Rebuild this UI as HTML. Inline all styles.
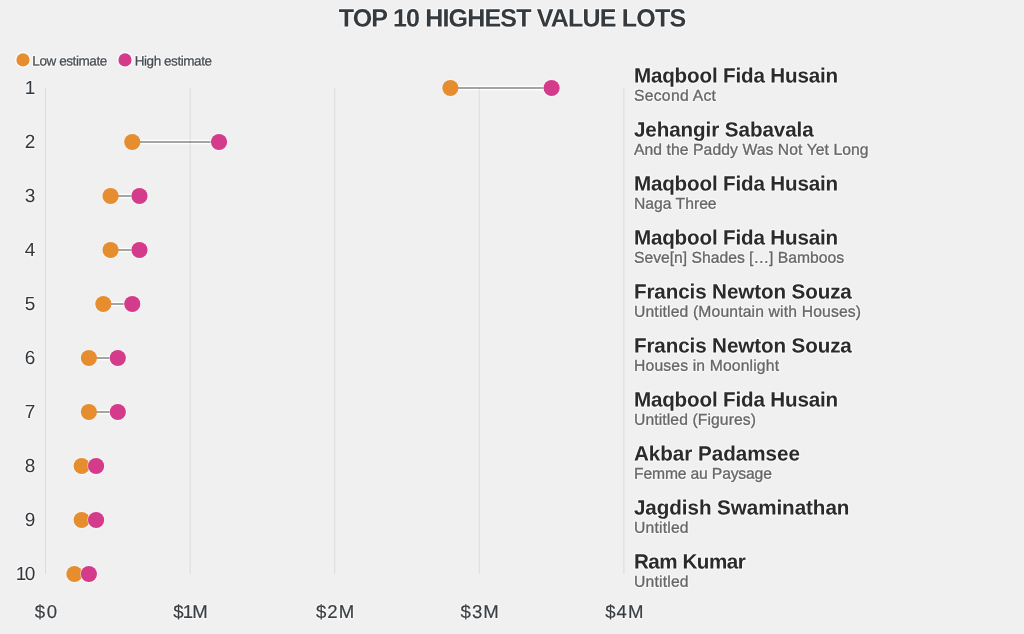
<!DOCTYPE html>
<html><head><meta charset="utf-8"><title>Top 10 highest value lots</title>
<style>
html,body{margin:0;padding:0;background:#f0f0f0;}
body{width:1024px;height:634px;overflow:hidden;font-family:"Liberation Sans",sans-serif;}
svg{display:block;will-change:transform;opacity:0.999;font-family:"Liberation Sans",sans-serif;}
.title{font-weight:bold;font-size:25px;fill:#343a3e;}
.leg{font-size:13.5px;fill:#454b50;stroke:#454b50;stroke-width:.25;}
.num{font-size:19px;fill:#31373c;}
.ax{font-size:18.6px;fill:#383e43;stroke:#383e43;stroke-width:.2;}
.name{font-weight:bold;font-size:20.6px;fill:#2b2b2b;}
.sub{font-size:15.7px;fill:#666666;stroke:#666666;stroke-width:.3;}
.h{fill:#ffffff;stroke:#ffffff;stroke-width:2.4;stroke-linejoin:round;opacity:.55;}
.hl{fill:#ffffff;stroke:#ffffff;stroke-width:2.3;stroke-linejoin:round;opacity:.75;}
.grid{stroke:#000000;stroke-opacity:.085;stroke-width:1;}
</style></head><body>
<svg width="1024" height="634" viewBox="0 0 1024 634">
<rect width="1024" height="634" fill="#f0f0f0"/>
<text class="title h" x="338.7" y="26.4" textLength="347.4" lengthAdjust="spacing" transform="rotate(0.03 338.7 26.4)">TOP 10 HIGHEST VALUE LOTS</text><text class="title" x="338.7" y="26.4" textLength="347.4" lengthAdjust="spacing" transform="rotate(0.03 338.7 26.4)">TOP 10 HIGHEST VALUE LOTS</text>
<circle cx="23" cy="59.9" r="7.9" fill="#fbfdff"/><circle cx="23" cy="59.9" r="6.6" fill="#e68d30"/>
<text class="leg hl" x="32.3" y="65.5" textLength="75.0" lengthAdjust="spacing" transform="rotate(0.03 32.3 65.5)">Low estimate</text><text class="leg" x="32.3" y="65.5" textLength="75.0" lengthAdjust="spacing" transform="rotate(0.03 32.3 65.5)">Low estimate</text>
<circle cx="125" cy="59.9" r="7.9" fill="#fbfdff"/><circle cx="125" cy="59.9" r="6.6" fill="#d43b8a"/>
<text class="leg hl" x="134.7" y="65.5" textLength="77.3" lengthAdjust="spacing" transform="rotate(0.03 134.7 65.5)">High estimate</text><text class="leg" x="134.7" y="65.5" textLength="77.3" lengthAdjust="spacing" transform="rotate(0.03 134.7 65.5)">High estimate</text>
<text class="ax h" x="45.9" y="618.0" text-anchor="middle" textLength="22.2" lengthAdjust="spacing" transform="rotate(0.03 45.9 618.0)">$0</text><text class="ax" x="45.9" y="618.0" text-anchor="middle" textLength="22.2" lengthAdjust="spacing" transform="rotate(0.03 45.9 618.0)">$0</text>
<text class="ax h" x="190.5" y="618.0" text-anchor="middle" textLength="34.6" lengthAdjust="spacing" transform="rotate(0.03 190.5 618.0)">$1M</text><text class="ax" x="190.5" y="618.0" text-anchor="middle" textLength="34.6" lengthAdjust="spacing" transform="rotate(0.03 190.5 618.0)">$1M</text>
<text class="ax h" x="335.1" y="618.0" text-anchor="middle" textLength="38.2" lengthAdjust="spacing" transform="rotate(0.03 335.1 618.0)">$2M</text><text class="ax" x="335.1" y="618.0" text-anchor="middle" textLength="38.2" lengthAdjust="spacing" transform="rotate(0.03 335.1 618.0)">$2M</text>
<text class="ax h" x="479.7" y="618.0" text-anchor="middle" textLength="38.2" lengthAdjust="spacing" transform="rotate(0.03 479.7 618.0)">$3M</text><text class="ax" x="479.7" y="618.0" text-anchor="middle" textLength="38.2" lengthAdjust="spacing" transform="rotate(0.03 479.7 618.0)">$3M</text>
<text class="ax h" x="624.3" y="618.0" text-anchor="middle" textLength="38.2" lengthAdjust="spacing" transform="rotate(0.03 624.3 618.0)">$4M</text><text class="ax" x="624.3" y="618.0" text-anchor="middle" textLength="38.2" lengthAdjust="spacing" transform="rotate(0.03 624.3 618.0)">$4M</text>
<text class="num h" x="35.4" y="94.1" text-anchor="end" transform="rotate(0.03 35.4 94.1)">1</text><text class="num" x="35.4" y="94.1" text-anchor="end" transform="rotate(0.03 35.4 94.1)">1</text>
<circle cx="450.38" cy="88" r="8.8" fill="#f6f9fc"/><circle cx="551.6" cy="88" r="8.8" fill="#f6f9fc"/><line x1="450.38" x2="551.6" y1="88" y2="88" stroke="#ffffff" stroke-width="4.4"/><line x1="450.38" x2="551.6" y1="88" y2="88" stroke="#a4a4a4" stroke-width="2"/>
<text class="name h" x="633.9" y="82.4" textLength="204.3" lengthAdjust="spacing" transform="rotate(0.03 633.9 82.4)">Maqbool Fida Husain</text><text class="name" x="633.9" y="82.4" textLength="204.3" lengthAdjust="spacing" transform="rotate(0.03 633.9 82.4)">Maqbool Fida Husain</text>
<text class="sub h" x="634.0" y="100.7" textLength="81.9" lengthAdjust="spacing" transform="rotate(0.03 634.0 100.7)">Second Act</text><text class="sub" x="634.0" y="100.7" textLength="81.9" lengthAdjust="spacing" transform="rotate(0.03 634.0 100.7)">Second Act</text>
<text class="num h" x="35.4" y="148.1" text-anchor="end" transform="rotate(0.03 35.4 148.1)">2</text><text class="num" x="35.4" y="148.1" text-anchor="end" transform="rotate(0.03 35.4 148.1)">2</text>
<circle cx="132.26" cy="142" r="8.8" fill="#f6f9fc"/><circle cx="219.02" cy="142" r="8.8" fill="#f6f9fc"/><line x1="132.26" x2="219.02" y1="142" y2="142" stroke="#ffffff" stroke-width="4.4"/><line x1="132.26" x2="219.02" y1="142" y2="142" stroke="#a4a4a4" stroke-width="2"/>
<text class="name h" x="633.9" y="136.4" textLength="179.8" lengthAdjust="spacing" transform="rotate(0.03 633.9 136.4)">Jehangir Sabavala</text><text class="name" x="633.9" y="136.4" textLength="179.8" lengthAdjust="spacing" transform="rotate(0.03 633.9 136.4)">Jehangir Sabavala</text>
<text class="sub h" x="634.0" y="154.7" textLength="234.6" lengthAdjust="spacing" transform="rotate(0.03 634.0 154.7)">And the Paddy Was Not Yet Long</text><text class="sub" x="634.0" y="154.7" textLength="234.6" lengthAdjust="spacing" transform="rotate(0.03 634.0 154.7)">And the Paddy Was Not Yet Long</text>
<text class="num h" x="35.4" y="202.1" text-anchor="end" transform="rotate(0.03 35.4 202.1)">3</text><text class="num" x="35.4" y="202.1" text-anchor="end" transform="rotate(0.03 35.4 202.1)">3</text>
<circle cx="110.57" cy="196" r="8.8" fill="#f6f9fc"/><circle cx="139.49" cy="196" r="8.8" fill="#f6f9fc"/><line x1="110.57" x2="139.49" y1="196" y2="196" stroke="#ffffff" stroke-width="4.4"/><line x1="110.57" x2="139.49" y1="196" y2="196" stroke="#a4a4a4" stroke-width="2"/>
<text class="name h" x="633.9" y="190.4" textLength="204.3" lengthAdjust="spacing" transform="rotate(0.03 633.9 190.4)">Maqbool Fida Husain</text><text class="name" x="633.9" y="190.4" textLength="204.3" lengthAdjust="spacing" transform="rotate(0.03 633.9 190.4)">Maqbool Fida Husain</text>
<text class="sub h" x="634.0" y="208.7" textLength="82.6" lengthAdjust="spacing" transform="rotate(0.03 634.0 208.7)">Naga Three</text><text class="sub" x="634.0" y="208.7" textLength="82.6" lengthAdjust="spacing" transform="rotate(0.03 634.0 208.7)">Naga Three</text>
<text class="num h" x="35.4" y="256.1" text-anchor="end" transform="rotate(0.03 35.4 256.1)">4</text><text class="num" x="35.4" y="256.1" text-anchor="end" transform="rotate(0.03 35.4 256.1)">4</text>
<circle cx="110.57" cy="250" r="8.8" fill="#f6f9fc"/><circle cx="139.49" cy="250" r="8.8" fill="#f6f9fc"/><line x1="110.57" x2="139.49" y1="250" y2="250" stroke="#ffffff" stroke-width="4.4"/><line x1="110.57" x2="139.49" y1="250" y2="250" stroke="#a4a4a4" stroke-width="2"/>
<text class="name h" x="633.9" y="244.4" textLength="204.3" lengthAdjust="spacing" transform="rotate(0.03 633.9 244.4)">Maqbool Fida Husain</text><text class="name" x="633.9" y="244.4" textLength="204.3" lengthAdjust="spacing" transform="rotate(0.03 633.9 244.4)">Maqbool Fida Husain</text>
<text class="sub h" x="634.0" y="262.7" textLength="210.1" lengthAdjust="spacing" transform="rotate(0.03 634.0 262.7)">Seve[n] Shades […] Bamboos</text><text class="sub" x="634.0" y="262.7" textLength="210.1" lengthAdjust="spacing" transform="rotate(0.03 634.0 262.7)">Seve[n] Shades […] Bamboos</text>
<text class="num h" x="35.4" y="310.1" text-anchor="end" transform="rotate(0.03 35.4 310.1)">5</text><text class="num" x="35.4" y="310.1" text-anchor="end" transform="rotate(0.03 35.4 310.1)">5</text>
<circle cx="103.34" cy="304" r="8.8" fill="#f6f9fc"/><circle cx="132.26" cy="304" r="8.8" fill="#f6f9fc"/><line x1="103.34" x2="132.26" y1="304" y2="304" stroke="#ffffff" stroke-width="4.4"/><line x1="103.34" x2="132.26" y1="304" y2="304" stroke="#a4a4a4" stroke-width="2"/>
<text class="name h" x="633.9" y="298.4" textLength="217.9" lengthAdjust="spacing" transform="rotate(0.03 633.9 298.4)">Francis Newton Souza</text><text class="name" x="633.9" y="298.4" textLength="217.9" lengthAdjust="spacing" transform="rotate(0.03 633.9 298.4)">Francis Newton Souza</text>
<text class="sub h" x="634.0" y="316.7" textLength="227.0" lengthAdjust="spacing" transform="rotate(0.03 634.0 316.7)">Untitled (Mountain with Houses)</text><text class="sub" x="634.0" y="316.7" textLength="227.0" lengthAdjust="spacing" transform="rotate(0.03 634.0 316.7)">Untitled (Mountain with Houses)</text>
<text class="num h" x="35.4" y="364.1" text-anchor="end" transform="rotate(0.03 35.4 364.1)">6</text><text class="num" x="35.4" y="364.1" text-anchor="end" transform="rotate(0.03 35.4 364.1)">6</text>
<circle cx="88.88" cy="358" r="8.8" fill="#f6f9fc"/><circle cx="117.8" cy="358" r="8.8" fill="#f6f9fc"/><line x1="88.88" x2="117.8" y1="358" y2="358" stroke="#ffffff" stroke-width="4.4"/><line x1="88.88" x2="117.8" y1="358" y2="358" stroke="#a4a4a4" stroke-width="2"/>
<text class="name h" x="633.9" y="352.4" textLength="217.9" lengthAdjust="spacing" transform="rotate(0.03 633.9 352.4)">Francis Newton Souza</text><text class="name" x="633.9" y="352.4" textLength="217.9" lengthAdjust="spacing" transform="rotate(0.03 633.9 352.4)">Francis Newton Souza</text>
<text class="sub h" x="634.0" y="370.7" textLength="145.0" lengthAdjust="spacing" transform="rotate(0.03 634.0 370.7)">Houses in Moonlight</text><text class="sub" x="634.0" y="370.7" textLength="145.0" lengthAdjust="spacing" transform="rotate(0.03 634.0 370.7)">Houses in Moonlight</text>
<text class="num h" x="35.4" y="418.1" text-anchor="end" transform="rotate(0.03 35.4 418.1)">7</text><text class="num" x="35.4" y="418.1" text-anchor="end" transform="rotate(0.03 35.4 418.1)">7</text>
<circle cx="88.88" cy="412" r="8.8" fill="#f6f9fc"/><circle cx="117.8" cy="412" r="8.8" fill="#f6f9fc"/><line x1="88.88" x2="117.8" y1="412" y2="412" stroke="#ffffff" stroke-width="4.4"/><line x1="88.88" x2="117.8" y1="412" y2="412" stroke="#a4a4a4" stroke-width="2"/>
<text class="name h" x="633.9" y="406.4" textLength="204.3" lengthAdjust="spacing" transform="rotate(0.03 633.9 406.4)">Maqbool Fida Husain</text><text class="name" x="633.9" y="406.4" textLength="204.3" lengthAdjust="spacing" transform="rotate(0.03 633.9 406.4)">Maqbool Fida Husain</text>
<text class="sub h" x="634.0" y="424.7" textLength="122.0" lengthAdjust="spacing" transform="rotate(0.03 634.0 424.7)">Untitled (Figures)</text><text class="sub" x="634.0" y="424.7" textLength="122.0" lengthAdjust="spacing" transform="rotate(0.03 634.0 424.7)">Untitled (Figures)</text>
<text class="num h" x="35.4" y="472.1" text-anchor="end" transform="rotate(0.03 35.4 472.1)">8</text><text class="num" x="35.4" y="472.1" text-anchor="end" transform="rotate(0.03 35.4 472.1)">8</text>
<circle cx="81.65" cy="466" r="8.8" fill="#f6f9fc"/><circle cx="96.11" cy="466" r="8.8" fill="#f6f9fc"/><line x1="81.65" x2="96.11" y1="466" y2="466" stroke="#ffffff" stroke-width="4.4"/><line x1="81.65" x2="96.11" y1="466" y2="466" stroke="#a4a4a4" stroke-width="2"/>
<text class="name h" x="633.9" y="460.4" textLength="166.0" lengthAdjust="spacing" transform="rotate(0.03 633.9 460.4)">Akbar Padamsee</text><text class="name" x="633.9" y="460.4" textLength="166.0" lengthAdjust="spacing" transform="rotate(0.03 633.9 460.4)">Akbar Padamsee</text>
<text class="sub h" x="634.0" y="478.7" textLength="137.9" lengthAdjust="spacing" transform="rotate(0.03 634.0 478.7)">Femme au Paysage</text><text class="sub" x="634.0" y="478.7" textLength="137.9" lengthAdjust="spacing" transform="rotate(0.03 634.0 478.7)">Femme au Paysage</text>
<text class="num h" x="35.4" y="526.1" text-anchor="end" transform="rotate(0.03 35.4 526.1)">9</text><text class="num" x="35.4" y="526.1" text-anchor="end" transform="rotate(0.03 35.4 526.1)">9</text>
<circle cx="81.65" cy="520" r="8.8" fill="#f6f9fc"/><circle cx="96.11" cy="520" r="8.8" fill="#f6f9fc"/><line x1="81.65" x2="96.11" y1="520" y2="520" stroke="#ffffff" stroke-width="4.4"/><line x1="81.65" x2="96.11" y1="520" y2="520" stroke="#a4a4a4" stroke-width="2"/>
<text class="name h" x="633.9" y="514.4" textLength="215.5" lengthAdjust="spacing" transform="rotate(0.03 633.9 514.4)">Jagdish Swaminathan</text><text class="name" x="633.9" y="514.4" textLength="215.5" lengthAdjust="spacing" transform="rotate(0.03 633.9 514.4)">Jagdish Swaminathan</text>
<text class="sub h" x="634.0" y="532.7" textLength="54.6" lengthAdjust="spacing" transform="rotate(0.03 634.0 532.7)">Untitled</text><text class="sub" x="634.0" y="532.7" textLength="54.6" lengthAdjust="spacing" transform="rotate(0.03 634.0 532.7)">Untitled</text>
<text class="num h" x="35.4" y="580.1" text-anchor="end" textLength="19.6" lengthAdjust="spacing" transform="rotate(0.03 35.4 580.1)">10</text><text class="num" x="35.4" y="580.1" text-anchor="end" textLength="19.6" lengthAdjust="spacing" transform="rotate(0.03 35.4 580.1)">10</text>
<circle cx="74.42" cy="574" r="8.8" fill="#f6f9fc"/><circle cx="88.88" cy="574" r="8.8" fill="#f6f9fc"/><line x1="74.42" x2="88.88" y1="574" y2="574" stroke="#ffffff" stroke-width="4.4"/><line x1="74.42" x2="88.88" y1="574" y2="574" stroke="#a4a4a4" stroke-width="2"/>
<text class="name h" x="633.9" y="568.4" textLength="111.9" lengthAdjust="spacing" transform="rotate(0.03 633.9 568.4)">Ram Kumar</text><text class="name" x="633.9" y="568.4" textLength="111.9" lengthAdjust="spacing" transform="rotate(0.03 633.9 568.4)">Ram Kumar</text>
<text class="sub h" x="634.0" y="586.7" textLength="54.6" lengthAdjust="spacing" transform="rotate(0.03 634.0 586.7)">Untitled</text><text class="sub" x="634.0" y="586.7" textLength="54.6" lengthAdjust="spacing" transform="rotate(0.03 634.0 586.7)">Untitled</text>
<line class="grid" x1="45.5" x2="45.5" y1="88" y2="574"/>
<line class="grid" x1="190.1" x2="190.1" y1="88" y2="574"/>
<line class="grid" x1="334.7" x2="334.7" y1="88" y2="574"/>
<line class="grid" x1="479.3" x2="479.3" y1="88" y2="574"/>
<line class="grid" x1="623.9" x2="623.9" y1="88" y2="574"/>
<circle cx="450.38" cy="88" r="8.1" fill="#e68d30"/><circle cx="551.6" cy="88" r="8.8" fill="#f6f9fc" opacity=".6"/><circle cx="551.6" cy="88" r="8.1" fill="#d43b8a"/>
<circle cx="132.26" cy="142" r="8.1" fill="#e68d30"/><circle cx="219.02" cy="142" r="8.8" fill="#f6f9fc" opacity=".6"/><circle cx="219.02" cy="142" r="8.1" fill="#d43b8a"/>
<circle cx="110.57" cy="196" r="8.1" fill="#e68d30"/><circle cx="139.49" cy="196" r="8.8" fill="#f6f9fc" opacity=".6"/><circle cx="139.49" cy="196" r="8.1" fill="#d43b8a"/>
<circle cx="110.57" cy="250" r="8.1" fill="#e68d30"/><circle cx="139.49" cy="250" r="8.8" fill="#f6f9fc" opacity=".6"/><circle cx="139.49" cy="250" r="8.1" fill="#d43b8a"/>
<circle cx="103.34" cy="304" r="8.1" fill="#e68d30"/><circle cx="132.26" cy="304" r="8.8" fill="#f6f9fc" opacity=".6"/><circle cx="132.26" cy="304" r="8.1" fill="#d43b8a"/>
<circle cx="88.88" cy="358" r="8.1" fill="#e68d30"/><circle cx="117.8" cy="358" r="8.8" fill="#f6f9fc" opacity=".6"/><circle cx="117.8" cy="358" r="8.1" fill="#d43b8a"/>
<circle cx="88.88" cy="412" r="8.1" fill="#e68d30"/><circle cx="117.8" cy="412" r="8.8" fill="#f6f9fc" opacity=".6"/><circle cx="117.8" cy="412" r="8.1" fill="#d43b8a"/>
<circle cx="81.65" cy="466" r="8.1" fill="#e68d30"/><circle cx="96.11" cy="466" r="8.8" fill="#f6f9fc" opacity=".6"/><circle cx="96.11" cy="466" r="8.1" fill="#d43b8a"/>
<circle cx="81.65" cy="520" r="8.1" fill="#e68d30"/><circle cx="96.11" cy="520" r="8.8" fill="#f6f9fc" opacity=".6"/><circle cx="96.11" cy="520" r="8.1" fill="#d43b8a"/>
<circle cx="74.42" cy="574" r="8.1" fill="#e68d30"/><circle cx="88.88" cy="574" r="8.8" fill="#f6f9fc" opacity=".6"/><circle cx="88.88" cy="574" r="8.1" fill="#d43b8a"/>
</svg></body></html>
